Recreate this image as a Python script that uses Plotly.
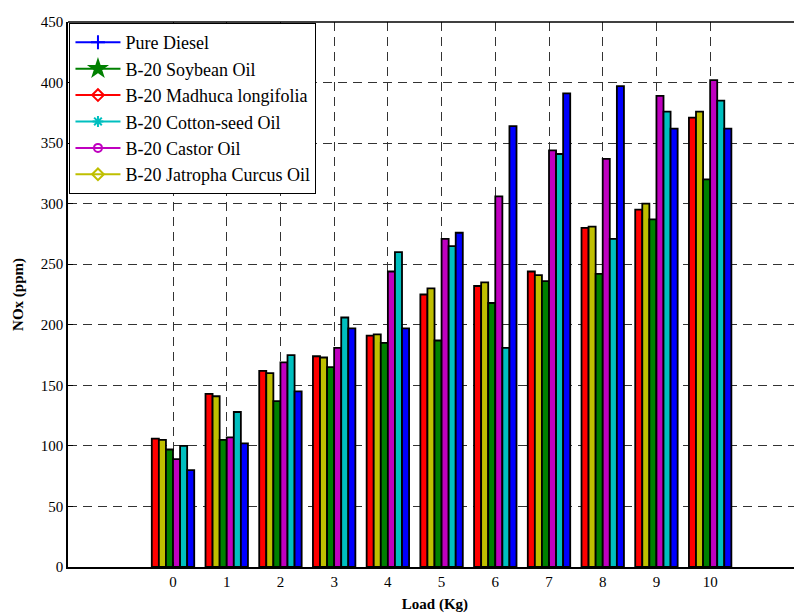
import plotly.graph_objects as go

loads = [0, 1, 2, 3, 4, 5, 6, 7, 8, 9, 10]

madhuca = [106, 143, 162, 174, 191, 225, 232, 244, 280, 295, 371]
jatropha = [105, 141, 160, 173, 192, 230, 235, 241, 281, 300, 376]
soybean = [97, 105, 137, 165, 185, 187, 218, 236, 242, 287, 320]
castor = [89, 107, 169, 181, 244, 271, 306, 344, 337, 389, 402]
cotton = [100, 128, 175, 206, 260, 265, 181, 341, 271, 376, 385]
diesel = [80, 102, 145, 197, 197, 276, 364, 391, 397, 362, 362]

yticks = [0, 50, 100, 150, 200, 250, 300, 350, 400, 450]

bar_series = [
    ("B-20 Madhuca longifolia", madhuca, "#FF0000"),
    ("B-20 Jatropha Curcus Oil", jatropha, "#BFBF00"),
    ("B-20 Soybean Oil", soybean, "#008000"),
    ("B-20 Castor Oil", castor, "#BF00BF"),
    ("B-20 Cotton-seed Oil", cotton, "#00BFBF"),
    ("Pure Diesel", diesel, "#0000FF"),
]

legend_series = [
    ("Pure Diesel", "#0000FF", "cross-thin-open", 10),
    ("B-20 Soybean Oil", "#008000", "star", 12),
    ("B-20 Madhuca longifolia", "#FF0000", "diamond-open", 9),
    ("B-20 Cotton-seed Oil", "#00BFBF", "asterisk-open", 9),
    ("B-20 Castor Oil", "#BF00BF", "circle-open", 8),
    ("B-20 Jatropha Curcus Oil", "#BFBF00", "diamond-open", 9),
]

fig = go.Figure()
for name, vals, col in bar_series:
    fig.add_trace(go.Bar(
        x=loads, y=vals, name=name, showlegend=False,
        marker=dict(color=col, line=dict(color="black", width=1.8)),
    ))

for name, col, sym, sz in legend_series:
    fig.add_trace(go.Scatter(
        x=[None], y=[None], mode="lines+markers", name=name,
        line=dict(color=col, width=2),
        marker=dict(symbol=sym, size=sz, color=col, line=dict(color=col, width=2)),
    ))

font_family = "Liberation Serif, Times New Roman, Times, serif"

fig.update_layout(
    width=794, height=606,
    margin=dict(l=60, r=0, t=14, b=47),
    paper_bgcolor="white", plot_bgcolor="white",
    barmode="group", bargap=0.21, bargroupgap=0,
    font=dict(family=font_family, size=15, color="black"),
    showlegend=True,
    legend=dict(
        x=0.002, y=0.998, xanchor="left", yanchor="top",
        bgcolor="white", bordercolor="black", borderwidth=1,
        font=dict(family=font_family, size=18, color="black"),
        itemwidth=45, tracegroupgap=0,
    ),
    xaxis=dict(
        range=[-1.955, 11.71],
        tickmode="array", tickvals=loads, ticktext=[str(v) for v in loads],
        showgrid=True, gridcolor="#333333", griddash="9px,6px", gridwidth=1,
        showline=True, linecolor="black", linewidth=1.5, mirror=False,
        ticks="inside", ticklen=5, tickcolor="black",
        zeroline=False, automargin=False,
        tickfont=dict(family=font_family, size=15),
        title=dict(text="<b>Load (Kg)</b>", font=dict(family=font_family, size=15), standoff=10),
    ),
    yaxis=dict(
        range=[0, 450],
        tickmode="array", tickvals=yticks, ticktext=[str(v) for v in yticks],
        showgrid=True, gridcolor="#333333", griddash="9px,6px", gridwidth=1,
        showline=True, linecolor="black", linewidth=1.5, mirror=False,
        ticks="inside", ticklen=5, tickcolor="black",
        zeroline=False, automargin=False,
        tickfont=dict(family=font_family, size=15),
        title=dict(text="<b>NOx (ppm)</b>", font=dict(family=font_family, size=15), standoff=14),
    ),
    shapes=[dict(type="line", xref="paper", yref="paper", x0=0, x1=1, y0=1, y1=1,
                 line=dict(color="black", width=1.5))],
)

fig.write_html("out.html")
